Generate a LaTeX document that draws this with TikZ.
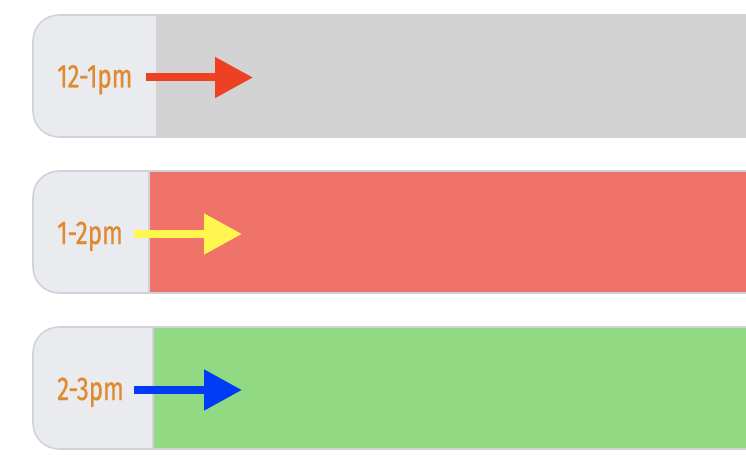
\documentclass[tikz,border=0pt]{standalone}
\usepackage{fontspec}
\newfontfamily\labelfont[FakeStretch=0.73,FakeBold=0.6]{Fira Sans}
\usetikzlibrary{arrows.meta}
\definecolor{panel}{HTML}{EAEBEF}
\definecolor{rim}{HTML}{CFD2D8}
\definecolor{barGray}{HTML}{D3D3D3}
\definecolor{barRed}{HTML}{EF7369}
\definecolor{barGreen}{HTML}{92D984}
\definecolor{txtOrange}{HTML}{DF8A2E}
\definecolor{arRed}{HTML}{EE4124}
\definecolor{arYellow}{HTML}{FFF64F}
\definecolor{arBlue}{HTML}{003CF5}
\tikzset{
  timelabel/.style={font=\labelfont\fontsize{33}{33}\selectfont, text=txtOrange, inner sep=0pt, anchor=base west},
  flow/.style={line width=8pt, -{Triangle[length=38pt,width=39pt]}},
}
\begin{document}
\begin{tikzpicture}[x=1pt,y=-1pt]
\useasboundingbox (0,0) rectangle (746,468);
\clip (0,0) rectangle (746,468);
% row 1
\fill[panel] (170,15) [rounded corners=26pt] -- (33,15) -- (33,137) [sharp corners] -- (170,137) -- cycle;
\fill[barGray] (156,15) rectangle (760,137);
\draw[rim, line width=1.6pt, rounded corners=26pt] (780,15) -- (33,15) -- (33,137) -- (780,137);
% row 2
\fill[panel] (170,171) [rounded corners=26pt] -- (33,171) -- (33,293) [sharp corners] -- (170,293) -- cycle;
\fill[barRed] (149,171) rectangle (760,293);
\draw[rim, line width=1.2pt] (149,171) -- (149,293);
\draw[rim, line width=1.6pt, rounded corners=26pt] (780,171) -- (33,171) -- (33,293) -- (780,293);
% row 3
\fill[panel] (170,327) [rounded corners=26pt] -- (33,327) -- (33,449) [sharp corners] -- (170,449) -- cycle;
\fill[barGreen] (153,327) rectangle (760,449);
\draw[rim, line width=1.2pt] (153,327) -- (153,449);
\draw[rim, line width=1.6pt, rounded corners=26pt] (780,327) -- (33,327) -- (33,449) -- (780,449);
% labels
\node[timelabel] (l1) at (57,87.5) {12-1pm};
\node[timelabel] (l2) at (57,244) {1-2pm};
\node[timelabel] (l3) at (57,400) {2-3pm};
\coordinate (s1) at (146,77.5);
\coordinate (e1) at (253,77.5);
\coordinate (s2) at (134,234);
\coordinate (e2) at (242,234);
\coordinate (s3) at (134,390);
\coordinate (e3) at (242,390);
\draw[flow, arRed] (s1) -- (e1);
\draw[flow, arYellow] (s2) -- (e2);
\draw[flow, arBlue] (s3) -- (e3);
\end{tikzpicture}
\end{document}
